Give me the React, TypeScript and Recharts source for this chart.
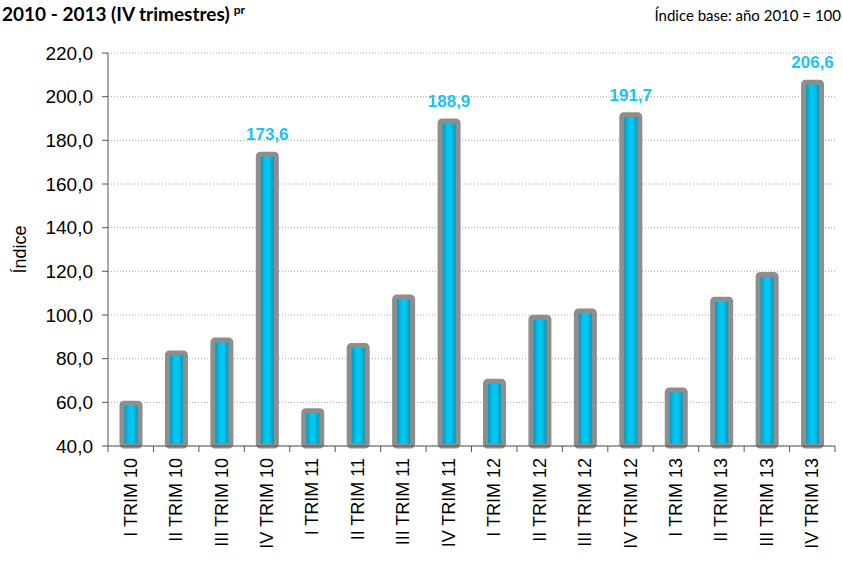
import React from 'react';
import { ComposedChart, Bar, XAxis, YAxis, CartesianGrid, LabelList } from 'recharts';

const categories = [
  'I TRIM 10', 'II TRIM 10', 'III TRIM 10', 'IV TRIM 10',
  'I TRIM 11', 'II TRIM 11', 'III TRIM 11', 'IV TRIM 11',
  'I TRIM 12', 'II TRIM 12', 'III TRIM 12', 'IV TRIM 12',
  'I TRIM 13', 'II TRIM 13', 'III TRIM 13', 'IV TRIM 13',
];
const values = [
  59.6, 82.6, 88.5, 173.6,
  56.2, 86.0, 108.2, 188.9,
  69.6, 99.0, 101.8, 191.7,
  65.6, 107.2, 118.6, 206.6,
];
const labelled = [3, 7, 11, 15];
const yTicks = [40, 60, 80, 100, 120, 140, 160, 180, 200, 220];

const data = categories.map((name, i) => ({ name, value: values[i] }));

const W = 843;
const H = 563;
const LEFT = 108;
const RIGHT = 835;
const TOP = 53;
const BOTTOM = 446;
const band = (RIGHT - LEFT) / categories.length;

const fmt = (v: number) => v.toFixed(1).replace('.', ',');
const font = 'Arial';

const XTick = (props: any) => {
  const { x, payload } = props;
  const left = x - band / 2;
  const ty = BOTTOM + 12;
  return (
    <g>
      <line x1={left} y1={BOTTOM} x2={left} y2={BOTTOM + 6} stroke="#555" />
      {payload.index === categories.length - 1 && (
        <line x1={left + band} y1={BOTTOM} x2={left + band} y2={BOTTOM + 6} stroke="#555" />
      )}
      <text
        x={x}
        y={ty}
        transform={`rotate(-90, ${x}, ${ty})`}
        textAnchor="end"
        dominantBaseline="central"
        fontFamily={font}
        fontSize={18}
        fill="#000"
      >
        {payload.value}
      </text>
    </g>
  );
};

const YTick = (props: any) => {
  const { y, payload } = props;
  return (
    <text
      x={93}
      y={y}
      textAnchor="end"
      dominantBaseline="central"
      fontFamily={font}
      fontSize={19}
      fill="#000"
    >
      {fmt(payload.value)}
    </text>
  );
};

const TopLabel = (props: any) => {
  const { x, y, width, index, value } = props;
  if (!labelled.includes(index)) return null;
  return (
    <text
      x={x + width / 2}
      y={y - 14}
      textAnchor="middle"
      fontFamily={font}
      fontSize={17}
      fontWeight="bold"
      fill="#19c3f2"
    >
      {fmt(value)}
    </text>
  );
};

export default function App() {
  return (
    <div style={{ position: 'absolute', left: 0, top: 0, width: W, height: H, background: '#fff' }}>
      <div
        style={{
          position: 'absolute', left: 2, top: 2, fontFamily: 'Lato, "Open Sans", sans-serif',
          fontWeight: 'bold', fontSize: 19, color: '#000', whiteSpace: 'nowrap',
        }}
      >
        2010 - 2013 (IV trimestres)
        <sup style={{ fontSize: 12, marginLeft: 4 }}>pr</sup>
      </div>
      <div
        style={{
          position: 'absolute', right: 2, top: 6, fontFamily: 'Lato, "Open Sans", sans-serif',
          fontSize: 15, color: '#000', whiteSpace: 'nowrap',
        }}
      >
        Índice base: año 2010 = 100
      </div>
      <ComposedChart
        width={W}
        height={H}
        data={data}
        margin={{ top: TOP, right: W - RIGHT, bottom: 0, left: 0 }}
        barCategoryGap={0}
      >
        <defs>
          <linearGradient id="barFill" x1="0" y1="0" x2="1" y2="0">
            <stop offset="0%" stopColor="#0a7f9c" />
            <stop offset="40%" stopColor="#00c6f2" />
            <stop offset="60%" stopColor="#00c6f2" />
            <stop offset="100%" stopColor="#0a7f9c" />
          </linearGradient>
        </defs>
        <CartesianGrid vertical={false} stroke="#a8a8a8" strokeDasharray="1 2" />
        <XAxis
          dataKey="name"
          interval={0}
          height={H - BOTTOM}
          tickLine={false}
          axisLine={{ stroke: '#555' }}
          tick={<XTick />}
        />
        <YAxis
          width={LEFT}
          domain={[40, 220]}
          ticks={yTicks}
          interval={0}
          axisLine={{ stroke: '#555' }}
          tickLine={{ stroke: '#555' }}
          tickSize={6}
          tick={<YTick />}
          label={{
            value: 'Índice',
            angle: -90,
            position: 'insideLeft',
            offset: 20,
            fontFamily: font,
            fontSize: 18,
            fill: '#000',
            style: { textAnchor: 'middle' },
          }}
        />
        <Bar
          dataKey="value"
          barSize={18}
          fill="url(#barFill)"
          stroke="#8e8e8e"
          strokeWidth={5}
          radius={2}
          isAnimationActive={false}
        >
          <LabelList dataKey="value" content={<TopLabel />} />
        </Bar>
      </ComposedChart>
    </div>
  );
}
